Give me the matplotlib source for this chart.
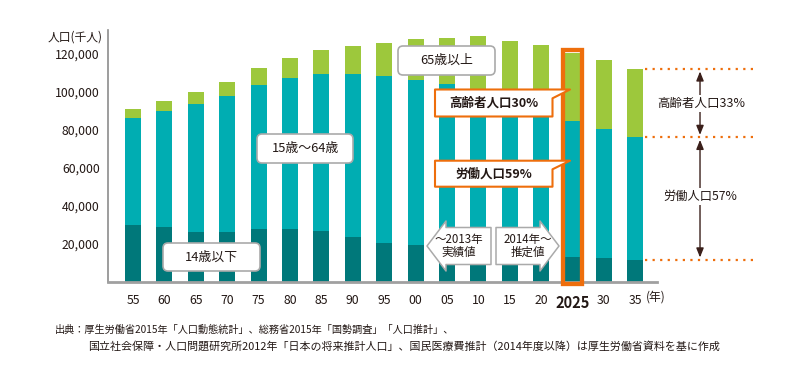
import matplotlib
import matplotlib.pyplot as plt
import matplotlib.transforms as mtransforms
from matplotlib.patches import FancyBboxPatch, Polygon, Rectangle
from matplotlib.ticker import FuncFormatter

matplotlib.use('Agg')

plt.rcParams['font.family'] = ['Noto Sans CJK JP', 'DejaVu Sans']

# 人口 (千人)
years = ['55', '60', '65', '70', '75', '80', '85', '90', '95', '00',
         '05', '10', '15', '20', '2025', '30', '35']
age_0_14 = [30200, 28700, 26300, 26100, 27700, 28100, 26600, 23700, 20300, 19300,
            18200, 17500, 16500, 15200, 12900, 12400, 11600]
age_15_64 = [55900, 61100, 67400, 71900, 76000, 79100, 82700, 85600, 88100, 87000,
             86000, 82000, 77500, 73300, 72000, 68300, 64500]
age_65_over = [4900, 5200, 6300, 7400, 8900, 10800, 12800, 14700, 17500, 21400,
               24200, 30100, 33000, 36200, 35600, 36300, 36000]
y_ticks = [20000, 40000, 60000, 80000, 100000, 120000]

footer_1 = '出典：厚生労働省2015年「人口動態統計」、総務省2015年「国勢調査」「人口推計」、'
footer_2 = ('国立社会保障・人口問題研究所2012年「日本の将来推計人口」、'
            '国民医療費推計（2014年度以降）は厚生労働省資料を基に作成')

TXT = '#231815'
GREEN = '#9DC83C'
TEAL = '#00ADB2'
DARK = '#00787A'
ORANGE = '#EE6E0C'
GRAY_EDGE = '#AAAAAA'
W, H = 808, 382

fig = plt.figure(figsize=(W / 100, H / 100), dpi=100)
# pixel coordinates (y down) for the overlay boxes
px = mtransforms.Affine2D().scale(1 / W, -1 / H).translate(0, 1) + fig.transFigure

ax = fig.add_axes([108 / W, 1 - 282 / H, (657 - 108) / W, (282 - 30) / H])
x = list(range(len(years)))
bw = 0.51
bottom_2 = age_0_14
bottom_3 = [a + b for a, b in zip(age_0_14, age_15_64)]
ax.bar(x, age_0_14, bw, color=DARK, zorder=2)
ax.bar(x, age_15_64, bw, bottom=bottom_2, color=TEAL, zorder=2)
ax.bar(x, age_65_over, bw, bottom=bottom_3, color=GREEN, zorder=2)

ax.set_xlim(-0.796, 16.69)
ax.set_ylim(0, 132600)
ax.set_yticks(y_ticks)
ax.yaxis.set_major_formatter(FuncFormatter(lambda v, p: f'{int(v):,}'))
ax.set_xticks(x)
ax.set_xticklabels(years)
ax.tick_params(axis='both', length=0, colors=TXT, labelsize=8.8)
ax.tick_params(axis='x', pad=9)
ax.tick_params(axis='y', pad=6)
for lab in ax.get_xticklabels():
    if lab.get_text() == '2025':
        lab.set_fontweight('bold')
        lab.set_fontsize(10.5)
for s in ['top', 'right']:
    ax.spines[s].set_visible(False)
ax.spines['left'].set_color('#8C8C8C')
ax.spines['left'].set_linewidth(1.2)
ax.spines['bottom'].set_color('#A0A0A0')
ax.spines['bottom'].set_linewidth(2)

fig.text(103 / W, 1 - 37 / H, '人口(千人)', ha='right', va='center', fontsize=8.5, color=TXT)
fig.text(646 / W, 1 - 297 / H, '(年)', ha='left', va='center', fontsize=8.5, color=TXT)

# 2025 highlight
i25 = years.index('2025')
top25 = bottom_3[i25] + age_65_over[i25]
ax.add_patch(Rectangle((i25 - 0.306, -1200), 0.612, top25 + 1500 + 1200,
                       fill=False, ec=ORANGE, lw=3.1, zorder=4, clip_on=False))

# dotted guides and arrows for 2035
last = len(years) - 1
levels = [bottom_3[last] + age_65_over[last], bottom_3[last], age_0_14[last]]
for lv in levels:
    ax.plot([16.3, 19.75], [lv, lv], color=ORANGE, lw=1.6,
            linestyle=(0, (1, 2.4)), clip_on=False, zorder=3)
ax_x = 18.06
arrow_kw = dict(arrowstyle='<|-|>,head_length=0.55,head_width=0.22', color='#3A1F1A', lw=1.0,
                shrinkA=0, shrinkB=0)
ax.annotate('', xy=(ax_x, levels[0] - 1300), xytext=(ax_x, levels[1] + 1300),
            arrowprops=arrow_kw, annotation_clip=False)
ax.annotate('', xy=(ax_x, levels[1] - 1300), xytext=(ax_x, levels[2] + 1300),
            arrowprops=arrow_kw, annotation_clip=False)
ax.text(ax_x + 0.05, (levels[0] + levels[1]) / 2, '高齢者人口33%', ha='center', va='center',
        fontsize=9, color=TXT, zorder=5,
        bbox=dict(fc='white', ec='none', pad=1.5))
ax.text(ax_x, (levels[1] + levels[2]) / 2 + 1200, '労働人口57%', ha='center', va='center',
        fontsize=8.8, color=TXT, zorder=5,
        bbox=dict(fc='white', ec='none', pad=1.5))


def gray_box(x0, y0, x1, y1, label, size):
    box = FancyBboxPatch((x0, y0), x1 - x0, y1 - y0, boxstyle='round,pad=0,rounding_size=5',
                         transform=px, fc='white', ec=GRAY_EDGE, lw=1.2)
    fig.add_artist(box)
    fig.text((x0 + x1) / 2 / W, 1 - (y0 + y1) / 2 / H, label, ha='center', va='center',
             fontsize=size, color=TXT)


gray_box(398, 46, 495, 75, '65歳以上', 9.3)
gray_box(257, 134, 353, 163, '15歳〜64歳', 9.3)
gray_box(163, 243, 260, 271, '14歳以下', 9.3)


def callout(x0, y0, x1, y1, tip_x, notch_y, label):
    pts = [(x0, y0), (tip_x, y0), (x1, notch_y), (x1, y1), (x0, y1)]
    fig.add_artist(Polygon(pts, closed=True, transform=px, fc='white', ec=ORANGE,
                           lw=1.5, joinstyle='round'))
    fig.text((x0 + x1) / 2 / W, 1 - (y0 + y1) / 2 / H, label, ha='center', va='center',
             fontsize=9, fontweight='bold', color=TXT)


callout(435, 89.5, 552.5, 116.5, 570, 98.3, '高齢者人口30%')
callout(435, 160.7, 552.5, 186.7, 570, 169.3, '労働人口59%')


def arrow_box(body_x0, body_x1, tip_x, label, left):
    bt, bb = 227.5, 264.5
    ht, hb, mid = 221, 271, 246
    if left:
        pts = [(tip_x, mid), (body_x0, ht), (body_x0, bt), (body_x1, bt),
               (body_x1, bb), (body_x0, bb), (body_x0, hb)]
    else:
        pts = [(tip_x, mid), (body_x1, hb), (body_x1, bb), (body_x0, bb),
               (body_x0, bt), (body_x1, bt), (body_x1, ht)]
    fig.add_artist(Polygon(pts, closed=True, transform=px, fc='white', ec=GRAY_EDGE,
                           lw=1.1, joinstyle='round'))
    cx = (min(pts)[0] + max(pts)[0]) / 2
    fig.text(cx / W, 1 - mid / H, label, ha='center', va='center', fontsize=8.3,
             color=TXT, linespacing=1.05)


arrow_box(446, 491, 427, '〜2013年\n実績値', True)
arrow_box(496, 540, 559, '2014年〜\n推定値', False)

fig.text(55 / W, 1 - 330 / H, footer_1, ha='left', va='center', fontsize=7.3, color=TXT)
fig.text(88 / W, 1 - 346.7 / H, footer_2, ha='left', va='center', fontsize=7.9, color=TXT)

fig.savefig('out.png', dpi=100)
